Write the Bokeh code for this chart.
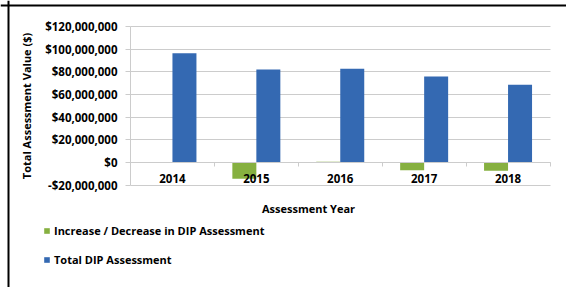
import numpy as np
from bokeh.plotting import figure
from bokeh.models import (Range1d, FixedTicker, NumeralTickFormatter, ColumnDataSource,
                          Legend, LegendItem, Label, Span)
from bokeh.transform import dodge
from bokeh.embed import file_html
from bokeh.resources import INLINE

# ---- data ----
years = ["2014", "2015", "2016", "2017", "2018"]
total_dip = [96.4e6, 82.0e6, 82.7e6, 75.9e6, 68.6e6]
change_dip = [-0.5e6, -14.4e6, 0.7e6, -6.8e6, -7.3e6]
y_ticks = [-20e6, 0, 20e6, 40e6, 60e6, 80e6, 100e6, 120e6]
series_names = ["Increase / Decrease in DIP Assessment", "Total DIP Assessment"]
x_title = "Assessment Year"
y_title = "Total Assessment Value ($)"

FONT = "Open Sans"
GREEN = "#86b040"
BLUE = "#3469b2"
GRID = "#cccccc"

W, H = 566, 287
# layout of the plotting area inside the canvas (pixels)
PL, PR, PT, PB = 130, 549.5, 26, 162     # left / right / top / zero-line
ppx = (PR - PL) / len(years)              # pixels per category
ppy = (PB - PT) / y_ticks[-1]             # pixels per dollar
xs = -PL / ppx
xe = len(years) + (W - PR) / ppx
ye = y_ticks[-1] + PT / ppy
ys = -(H - PB) / ppy

pos = list(np.arange(len(years)) + 0.5)
src = ColumnDataSource(dict(x=pos, total=total_dip, change=change_dip))

p = figure(width=W, height=H,
           x_range=Range1d(xs, xe), y_range=Range1d(ys, ye),
           output_backend="svg", toolbar_location=None,
           min_border=0, min_border_left=0, min_border_right=0,
           min_border_top=0, min_border_bottom=0)
p.outline_line_color = None

# horizontal grid lines only over the plotting area
p.xgrid.visible = False
p.ygrid.ticker = FixedTicker(ticks=y_ticks)
p.ygrid.grid_line_color = GRID
try:
    p.ygrid.cross_bounds = (0, len(years))
except Exception:
    p.ygrid.visible = False
    p.segment(x0=0, x1=len(years), y0=y_ticks, y1=y_ticks, line_color=GRID, line_width=1)

bw = 0.286
r1 = p.vbar(x=dodge("x", -bw / 2, range=p.x_range), top="change", bottom=0, width=bw,
            source=src, fill_color=GREEN, line_color=None)
r2 = p.vbar(x=dodge("x", bw / 2, range=p.x_range), top="total", bottom=0, width=bw,
            source=src, fill_color=BLUE, line_color=None)

# x axis drawn on the zero line
xa = p.xaxis[0]
xa.fixed_location = 0
xa.bounds = (0, len(years))
xa.ticker = FixedTicker(ticks=pos, minor_ticks=list(range(len(years) + 1)))
xa.major_label_overrides = {float(t): y for t, y in zip(pos, years)}
xa.major_tick_in = 0
xa.major_tick_out = 0
xa.minor_tick_in = 0
xa.minor_tick_out = 4
xa.minor_tick_line_color = GRID
xa.axis_line_color = GRID
xa.major_label_standoff = 7
xa.major_label_text_font = FONT
xa.major_label_text_font_style = "bold"
xa.major_label_text_font_size = "11.5px"
xa.major_label_text_color = "#000000"

# y axis at the left edge of the plotting area
ya = p.yaxis[0]
ya.fixed_location = 0
ya.bounds = (y_ticks[0], y_ticks[-1])
ya.ticker = FixedTicker(ticks=y_ticks)
ya.formatter = NumeralTickFormatter(format="$0,0")
ya.major_tick_in = 0
ya.major_tick_out = 5
ya.minor_tick_line_color = None
ya.major_tick_line_color = GRID
ya.axis_line_color = GRID
ya.major_label_standoff = 8
ya.major_label_text_font = FONT
ya.major_label_text_font_style = "bold"
ya.major_label_text_font_size = "11.5px"
ya.major_label_text_color = "#000000"
ya.axis_label = y_title
ya.axis_label_standoff = 8
ya.axis_label_text_font = FONT
ya.axis_label_text_font_style = "bold"
ya.axis_label_text_font_size = "11px"
ya.axis_label_text_color = "#000000"

# chart border (left and top)
p.add_layout(Span(location=xs + 8 / ppx, dimension="height", line_color="#000000", line_width=2))
p.add_layout(Span(location=ye - 5 / ppy, dimension="width", line_color="#000000", line_width=2))

# x-axis title
p.add_layout(Label(x=(308 - PL) / ppx, y=-(208 - PB) / ppy, text=x_title,
                   text_align="center", text_baseline="alphabetic",
                   text_font=FONT, text_font_style="bold", text_font_size="11px",
                   text_color="#000000"))

legend = Legend(items=[LegendItem(label=series_names[0], renderers=[r1]),
                       LegendItem(label=series_names[1], renderers=[r2])],
                location=(43, 20), orientation="vertical",
                glyph_width=7, glyph_height=7, label_standoff=4, spacing=14,
                padding=0, margin=0, border_line_color=None, background_fill_alpha=0,
                label_text_font=FONT, label_text_font_style="bold",
                label_text_font_size="11px", label_text_color="#000000")
p.add_layout(legend)

open("out.html", "w").write(file_html(p, INLINE))
